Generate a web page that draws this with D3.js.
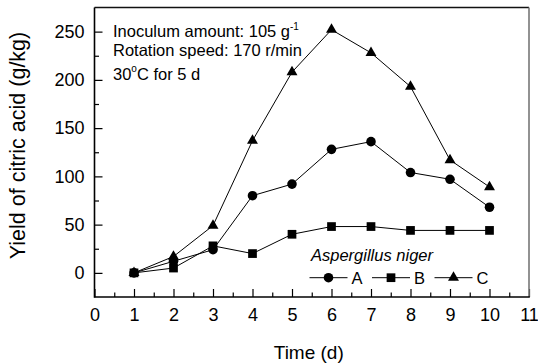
<!DOCTYPE html>
<html>
<head>
<meta charset="utf-8">
<script src="https://cdn.jsdelivr.net/npm/d3@7"></script>
<style>
  body { margin: 0; background: #fff; }
  svg { display: block; font-family: Arial, "Liberation Sans", sans-serif; }
</style>
</head>
<body>
<div id="chart"></div>
<script>
// values
const days = [1, 2, 3, 4, 5, 6, 7, 8, 9, 10];
const yieldA = [0, 12, 24, 80, 92, 128, 136, 104, 97, 68];
const yieldB = [0, 5, 28, 20, 40, 48, 48, 44, 44, 44];
const yieldC = [0, 17, 49, 137, 208, 252, 228, 193, 117, 89];
const seriesNames = ["A", "B", "C"];
const xTicks = [0, 1, 2, 3, 4, 5, 6, 7, 8, 9, 10, 11];
const yTicks = [0, 50, 100, 150, 200, 250];

const width = 538, height = 364;
const plot = {left: 94.5, right: 529, top: 7.5, bottom: 297};

const svg = d3.select("#chart")
    .append("svg")
    .attr("width", width)
    .attr("height", height);

const x = d3.scaleLinear().domain([0, 11]).range([plot.left, plot.right]);
const y = d3.scaleLinear().domain([-25, 275]).range([plot.bottom, plot.top]);

// minor ticks
svg.append("g")
    .attr("transform", `translate(0, ${plot.bottom})`)
    .call(d3.axisBottom(x).tickValues(d3.range(0.5, 11, 1)).tickSize(-4.5).tickFormat(""))
    .call(g => g.select(".domain").remove());
svg.append("g")
    .attr("transform", `translate(${plot.left}, 0)`)
    .call(d3.axisLeft(y).tickValues(d3.range(25, 250, 50)).tickSize(-4.5).tickFormat(""))
    .call(g => g.select(".domain").remove());

// major ticks
svg.append("g")
    .attr("transform", `translate(0, ${plot.bottom})`)
    .call(d3.axisBottom(x).tickValues(xTicks).tickSize(-8).tickPadding(11))
    .call(g => g.select(".domain").remove())
    .call(g => g.selectAll("text").attr("font-size", 18).attr("fill", "#000").attr("font-family", null));
svg.append("g")
    .attr("transform", `translate(${plot.left}, 0)`)
    .call(d3.axisLeft(y).tickValues(yTicks).tickSize(-8).tickPadding(10))
    .call(g => g.select(".domain").remove())
    .call(g => g.selectAll("text").attr("font-size", 18).attr("fill", "#000").attr("font-family", null));

svg.selectAll(".tick line").attr("stroke", "#000").attr("stroke-width", 1.2);

// frame
svg.append("line")
    .attr("x1", plot.left).attr("x2", plot.right)
    .attr("y1", plot.top).attr("y2", plot.top)
    .attr("stroke", "#111").attr("stroke-width", 1.5);
svg.append("line")
    .attr("x1", plot.right).attr("x2", plot.right)
    .attr("y1", plot.top).attr("y2", plot.bottom)
    .attr("stroke", "#777").attr("stroke-width", 1.6);
svg.append("line")
    .attr("x1", plot.left).attr("x2", plot.left)
    .attr("y1", plot.top).attr("y2", plot.bottom + 0.8)
    .attr("stroke", "#000").attr("stroke-width", 1.6);
svg.append("line")
    .attr("x1", plot.left).attr("x2", plot.right + 0.8)
    .attr("y1", plot.bottom).attr("y2", plot.bottom)
    .attr("stroke", "#000").attr("stroke-width", 1.7);

// axis titles
svg.append("text")
    .attr("x", (plot.left + plot.right) / 2 - 3)
    .attr("y", 359)
    .attr("text-anchor", "middle")
    .attr("font-size", 19)
    .text("Time (d)");
svg.append("text")
    .attr("transform", "translate(25, 145.5) rotate(-90)")
    .attr("text-anchor", "middle")
    .attr("font-size", 21.5)
    .text("Yield of citric acid (g/kg)");

// series
const symbols = {
    A: d3.symbol(d3.symbolCircle, 72),
    B: d3.symbol(d3.symbolSquare, 76),
    C: d3.symbol(d3.symbolTriangle, 52)
};
const series = [
    {name: "A", values: yieldA},
    {name: "B", values: yieldB},
    {name: "C", values: yieldC}
];
const line = d3.line()
    .x((d, i) => x(days[i]))
    .y(d => y(d));

series.forEach(s => {
    svg.append("path")
        .datum(s.values)
        .attr("fill", "none")
        .attr("stroke", "#000")
        .attr("stroke-width", 1)
        .attr("d", line);
});
series.forEach(s => {
    svg.append("g").selectAll("path")
        .data(s.values)
        .join("path")
        .attr("transform", (d, i) => `translate(${x(days[i])}, ${y(d)})`)
        .attr("d", symbols[s.name]())
        .attr("fill", "#000");
});

// annotation
const note = svg.append("g").attr("font-size", 16.5);
const l1 = note.append("text").attr("x", 113).attr("y", 36.7);
l1.append("tspan").text("Inoculum amount: 105 g");
l1.append("tspan").attr("font-size", 10).attr("dy", -7).text("-1");
note.append("text").attr("x", 113).attr("y", 55.7).text("Rotation speed: 170 r/min");
const l3 = note.append("text").attr("x", 113).attr("y", 79.5);
l3.append("tspan").text("30");
l3.append("tspan").attr("font-size", 10).attr("dy", -8).text("o");
l3.append("tspan").attr("dy", 8).text("C for 5 d");

// legend
const legend = svg.append("g").attr("font-size", 16.5);
legend.append("text")
    .attr("x", 311).attr("y", 260.5)
    .attr("font-style", "italic")
    .text("Aspergillus niger");
const legendX = [309.5, 372, 434.5];
const legendY = 277.7;
seriesNames.forEach((name, i) => {
    const x0 = legendX[i];
    legend.append("line")
        .attr("x1", x0).attr("x2", x0 + 38)
        .attr("y1", legendY).attr("y2", legendY)
        .attr("stroke", "#000").attr("stroke-width", 1);
    legend.append("path")
        .attr("transform", `translate(${x0 + 19}, ${legendY})`)
        .attr("d", symbols[name]())
        .attr("fill", "#000");
    legend.append("text")
        .attr("x", x0 + 42).attr("y", legendY + 6)
        .text(name);
});
</script>
</body>
</html>
